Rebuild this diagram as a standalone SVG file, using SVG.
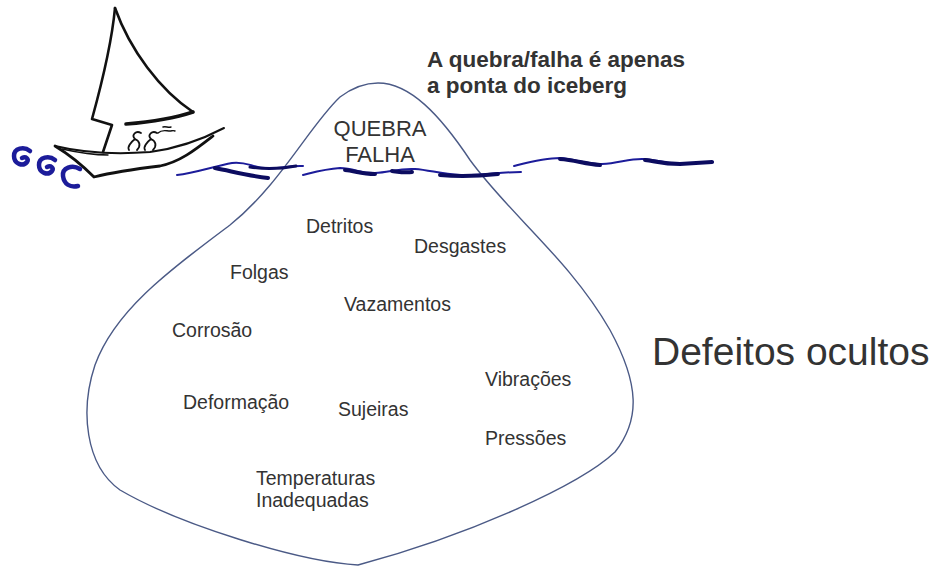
<svg xmlns="http://www.w3.org/2000/svg" width="935" height="570" viewBox="0 0 935 570">
  <style>
    .lbl { font-family: "Liberation Sans", Arial, sans-serif; font-size: 19.5px; fill: #333; }
    .tip { font-family: "Liberation Sans", Arial, sans-serif; font-size: 22px; fill: #333; text-anchor: middle; }
    .title { font-family: "Liberation Sans", Arial, sans-serif; font-size: 22.5px; font-weight: bold; fill: #333; }
    .big { font-family: "Liberation Sans", Arial, sans-serif; font-size: 39px; fill: #333; }
    .ink { fill: none; stroke: #111; stroke-linecap: round; stroke-linejoin: round; }
    .wave { fill: none; stroke: #1c1c9a; stroke-linecap: round; stroke-linejoin: round; }
    .waveDark { fill: none; stroke: #0c0c60; stroke-linecap: round; stroke-linejoin: round; }
  </style>
  <rect width="935" height="570" fill="#ffffff"/>

  <!-- iceberg outline -->
  <g id="iceberg">
    <path d="M378,83 C410,83 440,115 470,160 C510,215 570,260 610,330 C640,385 640,420 615,452 C580,485 470,535 358,565 C300,562 180,525 120,490 C85,465 80,410 95,365 C115,310 170,270 230,225 C280,185 310,125 340,97 C352,88 365,83 378,83 Z" fill="none" stroke="#4b5a86" stroke-width="1.4"/>
  </g>

  <!-- sailboat -->
  <g id="boat">
    <path class="ink" stroke-width="2.6" d="M115,8 C112,40 100,90 92,119 L112,125 L103,152"/>
    <path class="ink" stroke-width="2.6" d="M115,8 C130,50 160,90 193,112"/>
    <path class="ink" stroke-width="3.6" d="M193,112 C175,118 150,122 126,124"/>
    <path class="ink" stroke-width="2" d="M55,146 C80,152 110,155 150,152 C180,148 205,138 224,128"/>
    <path class="ink" stroke-width="1.4" d="M62,149 C80,153 95,155 108,155"/>
    <path class="ink" stroke-width="2.8" d="M55,146 C70,155 85,168 94,177 C110,173 135,169 160,166 C180,162 195,150 213,136"/>
    <!-- two passengers -->
    <path class="ink" stroke-width="1.8" d="M141,133 C136,130 131,135 135,139 C131,142 127,147 129,150 M135,139 C140,141 141,146 137,150"/>
    <path class="ink" stroke-width="1.8" d="M157,133 C152,130 147,135 151,139 C147,142 143,147 145,150 M151,139 C156,141 157,146 153,150"/>
    <path class="ink" stroke-width="1.4" d="M158,133 C162,129 166,131 170,131 C172,131 173,130 175,131 M163,127 C166,126 168,128 171,127"/>
  </g>

  <!-- water surface -->
  <g id="water">
    <path class="wave" stroke-width="4.5" d="M30,151 C24,146 14,148 14,156 C14,164 23,167 27,162 C29,159 26,156 22,158"/>
    <path class="wave" stroke-width="4.5" d="M55,160 C49,155 39,157 39,165 C39,173 48,176 52,171 C54,168 51,165 47,167"/>
    <path class="wave" stroke-width="4.5" d="M80,169 C72,164 62,168 63,176 C64,184 70,188 78,186"/>
    <path class="wave" stroke-width="2" d="M177,175 C195,173 215,166 232,163 C245,161 252,167 265,168 C280,169 292,165 303,166"/>
    <path class="waveDark" stroke-width="4" d="M215,168 C235,172 250,176 268,178"/>
    <path class="waveDark" stroke-width="3" d="M250,167 C262,169 280,169 296,166"/>
    <path class="wave" stroke-width="2" d="M303,175 C315,172 325,169 340,168 C355,168 360,174 375,173 C390,172 400,168 415,169 C430,170 440,174 460,175 C480,176 500,172 521,172"/>
    <path class="waveDark" stroke-width="4" d="M345,170 C355,171 362,174 375,174 M392,171 C400,172 405,173 412,172 M440,175 C460,177 480,176 498,174"/>
    <path class="wave" stroke-width="2" d="M514,166 C530,162 545,158 560,158 C575,159 585,164 602,164 C620,163 630,158 645,159 C660,160 665,164 680,164 L713,162"/>
    <path class="waveDark" stroke-width="4" d="M560,159 C575,160 585,164 600,165 M645,160 C655,161 662,164 680,164 L712,162"/>
  </g>

  <!-- captions -->
  <g id="title">
    <text class="title" x="427" y="67">A quebra/falha é apenas</text>
    <text class="title" x="427" y="93">a ponta do iceberg</text>
  </g>
  <g id="tip">
    <text class="tip" x="380" y="136">QUEBRA</text>
    <text class="tip" x="380" y="162">FALHA</text>
  </g>
  <g id="hidden-defects">
    <text class="big" x="652" y="365">Defeitos ocultos</text>
  </g>

  <!-- hidden causes -->
  <g id="n-detritos"><text class="lbl" x="306" y="233">Detritos</text></g>
  <g id="n-desgastes"><text class="lbl" x="414" y="253">Desgastes</text></g>
  <g id="n-folgas"><text class="lbl" x="230" y="279">Folgas</text></g>
  <g id="n-vazamentos"><text class="lbl" x="344" y="311">Vazamentos</text></g>
  <g id="n-corrosao"><text class="lbl" x="172" y="337">Corrosão</text></g>
  <g id="n-vibracoes"><text class="lbl" x="485" y="386">Vibrações</text></g>
  <g id="n-deformacao"><text class="lbl" x="183" y="409">Deformação</text></g>
  <g id="n-sujeiras"><text class="lbl" x="338" y="416">Sujeiras</text></g>
  <g id="n-pressoes"><text class="lbl" x="485" y="445">Pressões</text></g>
  <g id="n-temperaturas">
    <text class="lbl" x="256" y="485">Temperaturas</text>
    <text class="lbl" x="256" y="507">Inadequadas</text>
  </g>

  <g id="connectors"/>
</svg>
